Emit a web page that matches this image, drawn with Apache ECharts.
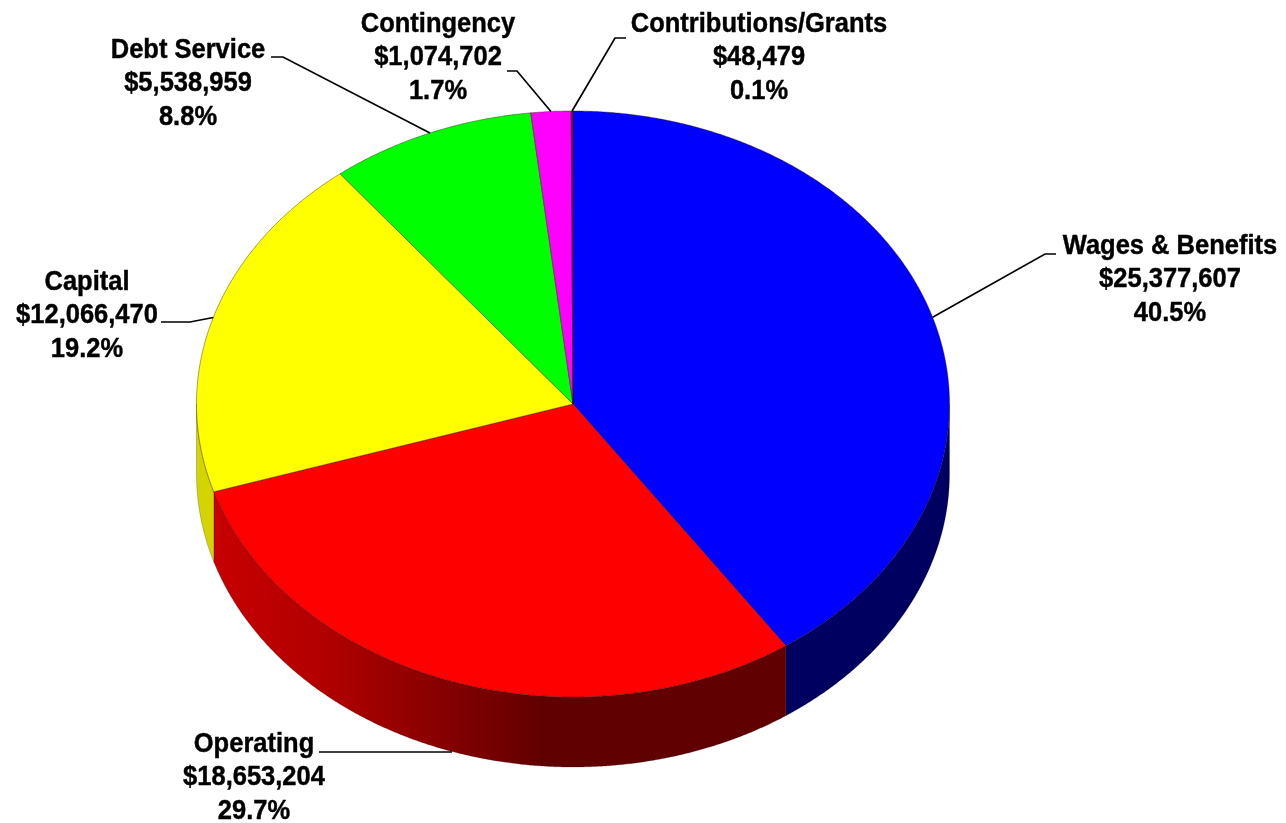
<!DOCTYPE html>
<html>
<head>
<meta charset="utf-8">
<title>Budget pie</title>
<script src="https://cdn.jsdelivr.net/npm/echarts@6/dist/echarts.min.js"></script>
<style>
  html, body { margin: 0; padding: 0; background: #fff; }
  #chart { width: 1286px; height: 823px; }
</style>
</head>
<body>
<div id="chart"></div>
<script>
// values as printed on the slices
const categories = ['Wages & Benefits', 'Operating', 'Capital', 'Debt Service', 'Contingency', 'Contributions/Grants']
const amounts = [25377607, 18653204, 12066470, 5538959, 1074702, 48479]
const percents = ['40.5%', '29.7%', '19.2%', '8.8%', '1.7%', '0.1%']

const topColors = ['#0000ff', '#ff0000', '#ffff00', '#00ff00', '#ff00ff', '#7a1040']
const sideColors = ['#000060', null, '#d4d400', '#00a000', '#a000a0', '#600030']

// label centre (first line) and the bend of the leader line + its outer end
const labelPos = [[1170, 246], [254, 744], [87, 282], [188, 50], [438, 24], [759, 24]]
const leaderPts = [
  [[1045, 254], [1056, 254]],
  [[452, 752], [319, 752]],
  [[190, 322], [161, 322]],
  [[283, 57], [271, 57]],
  [[517, 71], [507, 71]],
  [[615, 38], [626, 38]]
]

const CX = 573
const CY = 404
const RX = 376.5
const RY = 293
const DEPTH = 70
const LINE_H = 33.5
// the reference type is a bit taller than it is wide
const TEXT_SCALE_Y = 1.09
const FONT = 'bold 25.5px "Liberation Sans", Arial, sans-serif'

const total = amounts.reduce((a, b) => a + b, 0)
let cum = 0
const sliceData = amounts.map(v => {
  const item = [cum / total, (cum + v) / total]
  cum += v
  return item
})

// ellipse point, angle measured clockwise from 12 o'clock
function ellipsePt(theta, dy) {
  return [CX + RX * Math.sin(theta), CY - RY * Math.cos(theta) + (dy || 0)]
}

function arc(from, to, dy) {
  const pts = []
  const n = Math.max(2, Math.ceil(Math.abs(to - from) / 0.005))
  for (let i = 0; i <= n; i++) {
    pts.push(ellipsePt(from + (to - from) * i / n, dy))
  }
  return pts
}

function toAngle(frac) {
  return echarts.number.linearMap(frac, [0, 1], [0, Math.PI * 2])
}

function renderSide(params, api) {
  // only the front half of the rim can be seen
  const from = Math.max(toAngle(api.value(0)), Math.PI / 2)
  const to = Math.min(toAngle(api.value(1)), Math.PI * 1.5)
  if (to <= from) return { type: 'group', children: [] }
  const pts = arc(from, to, 0).concat(arc(to, from, DEPTH))
  let fill = sideColors[params.dataIndex]
  if (!fill) {
    fill = new echarts.graphic.LinearGradient(0, 0, 1, 0, [
      { offset: 0, color: '#c80000' },
      { offset: 0.2, color: '#b00000' },
      { offset: 0.45, color: '#7c0000' },
      { offset: 0.58, color: '#600000' },
      { offset: 1, color: '#600000' }
    ])
  }
  return {
    type: 'polygon',
    shape: { points: pts },
    style: { fill: fill, stroke: 'rgba(0,0,0,0.35)', lineWidth: 0.6 }
  }
}

function renderTop(params, api) {
  const pts = [[CX, CY]].concat(arc(toAngle(api.value(0)), toAngle(api.value(1)), 0))
  return {
    type: 'polygon',
    shape: { points: pts },
    style: { fill: topColors[params.dataIndex], stroke: 'rgba(40,0,0,0.55)', lineWidth: 0.7 }
  }
}

function renderLabel(params, api) {
  const i = params.dataIndex
  const mid = toAngle((api.value(0) + api.value(1)) / 2)
  // the operating leader is a flat line ending on the rim, the others start on the top face
  const pts = i === 1 ? leaderPts[i] : [ellipsePt(mid, 0)].concat(leaderPts[i])
  const p = labelPos[i]
  return {
    type: 'group',
    children: [
      {
        type: 'polyline',
        shape: { points: pts },
        style: { fill: null, stroke: '#000', lineWidth: 1.7 }
      },
      {
        type: 'text',
        x: p[0],
        y: p[1] - LINE_H / 2,
        scaleY: TEXT_SCALE_Y,
        style: {
          text: [categories[i], '$' + amounts[i].toLocaleString('en-US'), percents[i]].join('\n'),
          font: FONT,
          fill: '#000',
          stroke: '#000',
          lineWidth: 0.4,
          align: 'center',
          verticalAlign: 'top',
          lineHeight: LINE_H / TEXT_SCALE_Y
        }
      }
    ]
  }
}

const chart = echarts.init(document.getElementById('chart'), null, { renderer: 'canvas' })
chart.setOption({
  animation: false,
  backgroundColor: '#fff',
  series: [
    { type: 'custom', coordinateSystem: 'none', data: sliceData, renderItem: renderSide, silent: true, z: 1 },
    { type: 'custom', coordinateSystem: 'none', data: sliceData, renderItem: renderTop, silent: true, z: 2 },
    { type: 'custom', coordinateSystem: 'none', data: sliceData, renderItem: renderLabel, silent: true, z: 3 }
  ]
})
</script>
</body>
</html>
